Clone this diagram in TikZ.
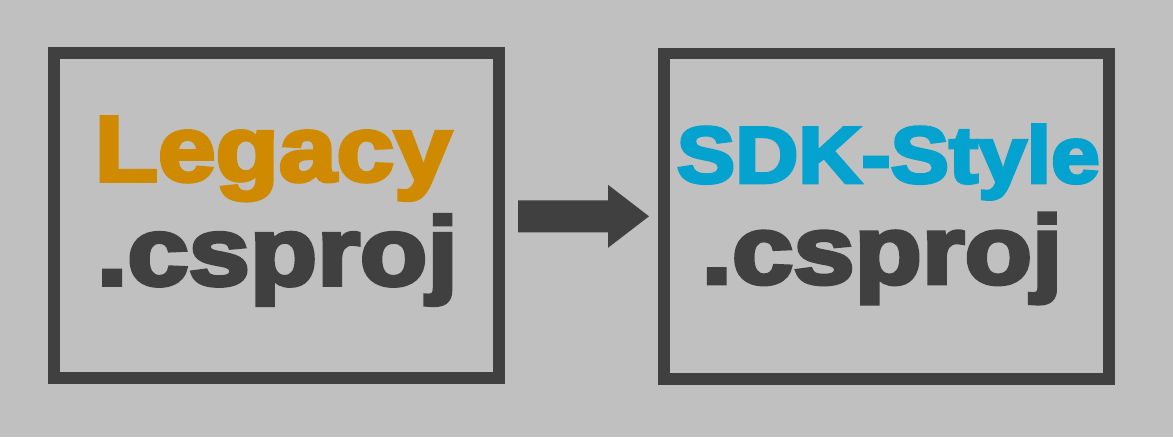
\documentclass[tikz,border=0pt]{standalone}
\usepackage{fontspec}
\usepackage{graphicx}
\usetikzlibrary{calc}
\newfontfamily\heavy{Liberation Sans}[BoldFeatures={FakeBold=4}]
\definecolor{bgc}{HTML}{C0C0C0}
\definecolor{darkc}{HTML}{404040}
\definecolor{legacyc}{HTML}{D08A00}
\definecolor{sdkc}{HTML}{04A2CF}
\begin{document}
\begin{tikzpicture}[x=1pt,y=-1pt,
  frame/.style={draw=darkc, line width=11.7pt, minimum width=445.3pt, minimum height=325.3pt, inner sep=0pt, outer sep=0pt},
  bigtxt/.style={font=\heavy\bfseries\fontsize{93pt}{100pt}\selectfont, inner sep=0pt, outer sep=0pt, anchor=base},
  exttxt/.style={font=\heavy\bfseries\fontsize{97pt}{100pt}\selectfont, inner sep=0pt, outer sep=0pt, anchor=base},
  midtxt/.style={font=\heavy\bfseries\fontsize{80pt}{90pt}\selectfont, inner sep=0pt, outer sep=0pt, anchor=base}]
\fill[bgc] (0,0) rectangle (1173,437);
\useasboundingbox (0,0) rectangle (1173,437);
\node[frame] (old) at (276.5,215.5) {};
\node[frame, minimum width=445pt, minimum height=325.6pt] (new) at (886.65,216.3) {};
\node[bigtxt, text=legacyc] (legacy) at (273.2,181) {\resizebox{357pt}{\height}{Legacy}};
\node[exttxt, text=darkc] (oldext) at (277.3,285) {\resizebox{361pt}{\height}{.csproj}};
\node[midtxt, text=sdkc] (sdk) at (888.3,182.7) {\resizebox{423pt}{\height}{SDK-Style}};
\node[exttxt, text=darkc] (newext) at (882,283.5) {\resizebox{361pt}{\height}{.csproj}};
\coordinate (as) at ($(old.east)+(18.85,0.8)$);
\coordinate (at) at ($(new.west)+(-15.15,0)$);
\fill[darkc] ($(as)+(0,-16)$) -- ($(at)+(-41,-16)$) -- ($(at)+(-41,-31.5)$) -- (at)
  -- ($(at)+(-41,31.5)$) -- ($(at)+(-41,16)$) -- ($(as)+(0,16)$) -- cycle;
\end{tikzpicture}
\end{document}
